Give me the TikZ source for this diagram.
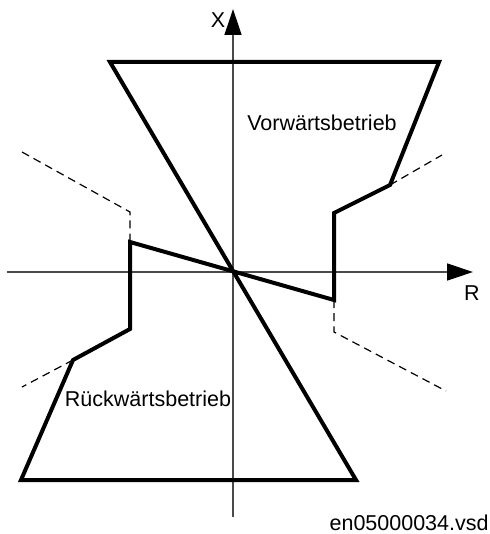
\documentclass[tikz,border=0pt]{standalone}
\usepackage{fontspec}
\setmainfont{Liberation Sans}
\usetikzlibrary{arrows.meta}
\definecolor{ink}{HTML}{000000}
\definecolor{axisline}{HTML}{4A4A4A}
\newcommand{\plotfont}{\fontsize{10.75}{13}\selectfont}
\tikzset{
 every node/.append style={font=\plotfont,text=ink,inner sep=0pt},
 axis/.style={-{Triangle[length=13pt,width=8.5pt,color=ink]},draw=axisline,line width=.65pt},
 zone/.style={draw=ink,line width=2pt,line join=miter},
 reach/.style={draw=ink,line width=.6pt,dash pattern=on 4pt off 2.6pt},
 word/.style={text=ink},
}

\begin{document}
\begin{tikzpicture}[x=.5pt,y=-.5pt]
\useasboundingbox (0,0) rectangle (490,534);

% axes
\coordinate (xfoot) at (233,517);
\coordinate (xtip) at (233,9);
\coordinate (rfoot) at (7,272);
\coordinate (rtip) at (473,272);
\draw[axis] (xfoot) -- (xtip);
\draw[axis] (rfoot) -- (rtip);
\node[word] (xlab) at (218,20) {X};
\node[word] (rlab) at (472,293) {R};

% characteristic corners
\coordinate (tl) at (110,62);
\coordinate (tr) at (439,62);
\coordinate (rk) at (390,185);
\coordinate (rs) at (334,213);
\coordinate (rb) at (334,300);
\coordinate (lt) at (130,242);
\coordinate (ls) at (130,329);
\coordinate (lk) at (73,360);
\coordinate (bl) at (21,480);
\coordinate (br) at (356,480);
\draw[zone] (tl) -- (tr) -- (rk) -- (rs) -- (rb) -- (lt) -- (ls) -- (lk) -- (bl) -- (br) -- cycle;

% extended reach
\draw[reach] (22,152) -- (130,212) -- (lt);
\draw[reach] (rk) -- (442,155);
\draw[reach] (rb) -- (334,332) -- (446,391);
\draw[reach] (lk) -- (22,387);

\node[word] (fwd) at (322,123) {Vorwärtsbetrieb};
\node[word] (rev) at (148,399) {Rückwärtsbetrieb};
\node[word,anchor=east] (file) at (489,523) {en05000034.vsd};

\end{tikzpicture}
\end{document}
